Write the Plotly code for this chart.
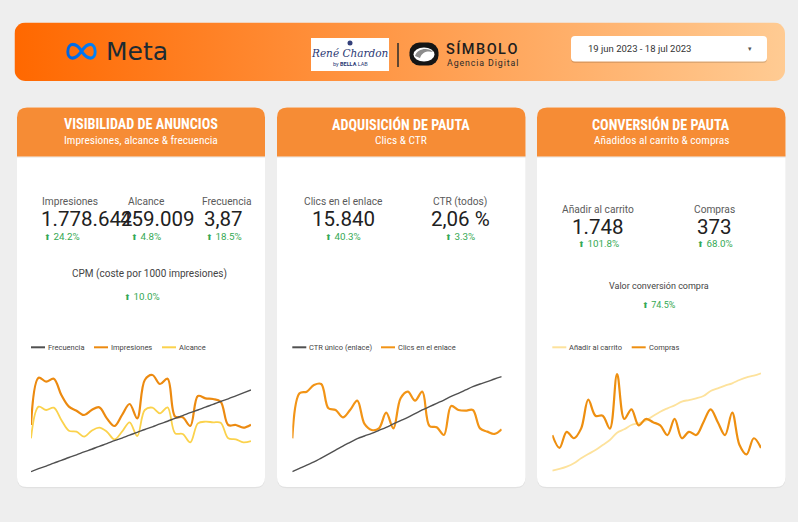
import base64
import pandas as pd
import plotly.graph_objects as go

W, H = 798, 522

# ---------------- DATA ----------------
fechas = pd.date_range("2023-06-19", "2023-07-18", freq="D")

impresiones = [43800, 75750, 73050, 75075, 64050, 56175, 53475, 50550, 53925, 55725,
               48300, 43125, 50550, 57975, 48300, 74175, 77550, 71475, 75075, 49425,
               48975, 43125, 63375, 61800, 61350, 59550, 43800, 43800, 42000, 44025]
alcance = [12020, 20000, 19160, 19748, 16640, 13952, 13700, 12440, 13952, 14708,
           13700, 11768, 13700, 16052, 12608, 19160, 19748, 18320, 19832, 13280,
           13112, 11012, 15800, 16220, 16052, 15968, 12020, 11768, 11012, 11348]
frecuencia = [1.10, 1.20, 1.29, 1.39, 1.48, 1.58, 1.67, 1.77, 1.86, 1.96,
              2.05, 2.15, 2.24, 2.34, 2.43, 2.53, 2.62, 2.72, 2.81, 2.91,
              3.00, 3.10, 3.19, 3.29, 3.38, 3.48, 3.57, 3.67, 3.77, 3.87]

clics = [300, 688, 702, 759, 768, 559, 544, 481, 544, 625,
         424, 372, 386, 521, 386, 645, 702, 625, 702, 406,
         395, 329, 579, 544, 538, 544, 386, 358, 338, 378]
ctr_unico = [1.000, 1.049, 1.098, 1.143, 1.201, 1.260, 1.319, 1.378, 1.432, 1.486,
             1.526, 1.565, 1.609, 1.653, 1.703, 1.752, 1.801, 1.855, 1.909, 1.958,
             2.007, 2.056, 2.110, 2.155, 2.204, 2.253, 2.292, 2.326, 2.366, 2.400]

compras = [11, 7, 12, 10, 13, 22, 17, 17, 13, 30,
           16, 19, 14, 16, 15, 14, 11, 16, 10, 12,
           11, 15, 19, 15, 11, 18, 8, 5, 10, 7]
carrito = [60, 89, 129, 187, 274, 349, 418, 505, 592, 719,
           777, 852, 881, 927, 1008, 1083, 1141, 1193, 1257, 1285,
           1314, 1355, 1442, 1488, 1534, 1575, 1632, 1679, 1707, 1748]

card_titles = ["VISIBILIDAD DE ANUNCIOS", "ADQUISICIÓN DE PAUTA", "CONVERSIÓN DE PAUTA"]
card_subtitles = ["Impresiones, alcance & frecuencia", "Clics & CTR", "Añadidos al carrito & compras"]

kpi1_labels = ["Impresiones", "Alcance", "Frecuencia"]
kpi1_values = ["1.778.642", "459.009", "3,87"]
kpi1_deltas = ["24.2%", "4.8%", "18.5%"]
kpi2_labels = ["Clics en el enlace", "CTR (todos)"]
kpi2_values = ["15.840", "2,06 %"]
kpi2_deltas = ["40.3%", "3.3%"]
kpi3_labels = ["Añadir al carrito", "Compras"]
kpi3_values = ["1.748", "373"]
kpi3_deltas = ["101.8%", "68.0%"]
extra_labels = ["CPM (coste por 1000 impresiones)", "Valor conversión compra"]
extra_deltas = ["10.0%", "74.5%"]

fecha_rango = "19 jun 2023 - 18 jul 2023"

# ---------------- STYLE ----------------
BG = "#eeeeee"
ORANGE_HDR = "#f68c35"
C_IMP = "#ec8a10"
C_ALC = "#fbd24c"
C_FREC = "#505050"
C_CLICS = "#f29416"
C_CTR = "#505050"
C_COMPRAS = "#ee8f10"
C_CARRITO = "#fde29c"
GREEN = "#34a853"
FONT = "Roboto"
COND = "Liberation Sans Narrow, Roboto Condensed, Roboto"


def X(px):
    return px / W


def Y(py):
    return 1 - py / H


def rrect(x0, y0, x1, y1, r, top_only=False):
    def P(x, y):
        return f"{X(x):.5f},{Y(y):.5f}"
    if top_only:
        s = (f"M {P(x0, y1)} L {P(x0, y0 + r)} Q {P(x0, y0)} {P(x0 + r, y0)} "
             f"L {P(x1 - r, y0)} Q {P(x1, y0)} {P(x1, y0 + r)} L {P(x1, y1)} Z")
    else:
        s = (f"M {P(x0 + r, y0)} L {P(x1 - r, y0)} Q {P(x1, y0)} {P(x1, y0 + r)} "
             f"L {P(x1, y1 - r)} Q {P(x1, y1)} {P(x1 - r, y1)} L {P(x0 + r, y1)} "
             f"Q {P(x0, y1)} {P(x0, y1 - r)} L {P(x0, y0 + r)} Q {P(x0, y0)} {P(x0 + r, y0)} Z")
    return s


shapes = []
annotations = []
images = []


def add_path(path, fill, line_color=None, width=0):
    shapes.append(dict(type="path", path=path, xref="paper", yref="paper",
                       fillcolor=fill, line=dict(color=line_color or fill, width=width),
                       layer="below"))


def text(x, y, s, size, color="#222", xanchor="center", family=FONT, weight="normal", style="normal"):
    annotations.append(dict(x=X(x), y=Y(y), xref="paper", yref="paper", text=s,
                            showarrow=False, xanchor=xanchor, yanchor="middle", borderpad=0,
                            font=dict(size=size, color=color, family=family, weight=weight, style=style)))


def svg_uri(svg):
    return "data:image/svg+xml;base64," + base64.b64encode(svg.encode()).decode()


def add_image(svg, x0, y0, x1, y1):
    images.append(dict(source=svg_uri(svg), xref="paper", yref="paper", x=X(x0), y=Y(y0),
                       sizex=(x1 - x0) / W, sizey=(y1 - y0) / H, xanchor="left", yanchor="top",
                       sizing="stretch", layer="below"))


# ---------------- HEADER ----------------
hx0, hy0, hx1, hy1 = 14.5, 22.5, 785, 81
hw, hh = hx1 - hx0, hy1 - hy0
add_image(f'<svg xmlns="http://www.w3.org/2000/svg" width="{hw}" height="{hh}" viewBox="0 0 {hw} {hh}">'
          '<defs><linearGradient id="g" x1="0" y1="0" x2="1" y2="0">'
          '<stop offset="0" stop-color="#ff6800"/><stop offset="1" stop-color="#ffcb93"/>'
          f'</linearGradient></defs><rect x="0" y="0" width="{hw}" height="{hh}" rx="11" ry="11" fill="url(#g)"/></svg>',
          hx0, hy0, hx1, hy1)

# Meta icon
add_image('<svg xmlns="http://www.w3.org/2000/svg" width="68" height="36" viewBox="0 0 68 36">'
          '<defs><linearGradient id="m" x1="0" y1="0" x2="1" y2="0">'
          '<stop offset="0" stop-color="#0064e1"/><stop offset="1" stop-color="#0082fb"/></linearGradient></defs>'
          '<path d="M34,18 C28,8 22,4 15,4 C8,4 4,11 4,19 C4,27 8,32 14,32 C22,32 28,26 34,18 '
          'C40,10 46,4 53,4 C60,4 64,11 64,19 C64,27 60,32 54,32 C46,32 40,26 34,18 Z" '
          'fill="none" stroke="url(#m)" stroke-width="6.5"/></svg>', 66, 42.5, 97, 60)
text(105, 51.8, "Meta", 25, "#1c2b33", "left", "DejaVu Sans")

# René Chardon logo block
shapes.append(dict(type="rect", xref="paper", yref="paper", x0=X(311), x1=X(389), y0=Y(71), y1=Y(38),
                   fillcolor="#ffffff", line=dict(width=0), layer="below"))
shapes.append(dict(type="circle", xref="paper", yref="paper", x0=X(347.5), x1=X(352.5), y0=Y(45.5), y1=Y(40.5),
                   fillcolor="#33407a", line=dict(width=0), layer="above"))
text(350, 53.5, "René Chardon", 10.5, "#2c3a74", "center", "DejaVu Serif", style="italic")
text(350, 63.5, "by <b>BELLA</b> LAB", 5.5, "#2c3a74", "center")
shapes.append(dict(type="line", xref="paper", yref="paper", x0=X(398), x1=X(398), y0=Y(67), y1=Y(43),
                   line=dict(color="#2a2a2a", width=1.5), layer="above"))

# Símbolo logo
add_image('<svg xmlns="http://www.w3.org/2000/svg" width="30" height="24" viewBox="0 0 30 24">'
          '<rect x="0.5" y="0.5" width="29" height="23" rx="10" fill="#151515"/>'
          '<ellipse cx="15" cy="12.5" rx="10.5" ry="7" fill="#ffffff"/>'
          '<path d="M6,14 C8,6 20,5 24,10 C19,8.5 13,9.5 11,16 Z" fill="#8c8c8c"/></svg>', 409, 42, 439, 66)
text(445, 49, "S\u200aÍ\u200aM\u200aB\u200aO\u200aL\u200aO", 14.5, "#1e1e1e", "left", FONT, weight=500)
text(446, 62.5, "A\u200ag\u200ae\u200an\u200ac\u200ai\u200aa\u2009 D\u200ai\u200ag\u200ai\u200at\u200aa\u200al", 8.8, "#2a2a2a", "left", FONT)

# Date selector
add_path(rrect(571, 37.5, 767, 63, 4), "rgba(0,0,0,0.13)")
add_path(rrect(571, 36, 767, 61.5, 4), "#ffffff")
text(587, 48.8, fecha_rango, 9.5, "#333333", "left")
text(749.5, 48.5, "▾", 7, "#555555", "center", "DejaVu Sans")

# ---------------- CARDS ----------------
cards = [(17, 265), (277, 525.5), (537, 785.5)]
cy0, cy1, chdr = 107.5, 487, 156.5
for i, (x0, x1) in enumerate(cards):
    add_path(rrect(x0, cy0 + 1, x1, cy1 + 1.2, 10), "rgba(0,0,0,0.05)")
    add_path(rrect(x0, cy0, x1, cy1, 10), "#ffffff")
    add_path(rrect(x0, chdr - 2, x1, chdr + 1.5, 0), "rgba(0,0,0,0.06)")
    add_path(rrect(x0, cy0, x1, chdr, 10, top_only=True), ORANGE_HDR)
    cx = (x0 + x1) / 2
    text(cx, 124, f"<b>{card_titles[i]}</b>", 14.2, "#ffffff", "center", COND)
    text(cx, 140.5, card_subtitles[i], 11.4, "#ffffff", "center", COND)


def delta(s):
    return f"<span style='font-size:7.5px'>⬆</span> {s}"


LBL = "#5a5a5a"
VAL = "#212121"
# Card 1 KPIs (left aligned)
k1_lx = [40.5, 127, 201]
k1_vx = [39.5, 118.5, 202.5]
k1_dx = [42.5, 130, 205]
for j in range(3):
    text(k1_lx[j], 201.5, kpi1_labels[j], 10.2, LBL, "left")
    text(k1_vx[j], 219, kpi1_values[j], 20.5, VAL, "left")
    text(k1_dx[j], 236.5, delta(kpi1_deltas[j]), 9.8, GREEN, "left")
text(149, 273.5, extra_labels[0], 10, "#444444", "center")
text(142, 296, delta(extra_deltas[0]), 9.8, GREEN, "center")

# Card 2 KPIs
for j, cx in enumerate([343, 460.5]):
    text(cx, 201.5, kpi2_labels[j], 10.2, LBL, "center")
    text(cx, 219, kpi2_values[j], 20.5, VAL, "center")
    text(cx, 236.8, delta(kpi2_deltas[j]), 9.8, GREEN, "center")

# Card 3 KPIs
for j, cx in enumerate([598, 714.5]):
    text(cx, 209, kpi3_labels[j], 10.2, LBL, "center")
    text(cx, 227, kpi3_values[j], 20.5, VAL, "center")
    text(cx, 244, delta(kpi3_deltas[j]), 9.8, GREEN, "center")
text(659, 286, extra_labels[1], 9, "#444444", "center")
text(659, 304.5, delta(extra_deltas[1]), 9, GREEN, "center")

# ---------------- LEGENDS ----------------
LEG_Y = 347.3
legends = [
    [(31, "Frecuencia", C_FREC), (94, "Impresiones", C_IMP), (162, "Alcance", C_ALC)],
    [(292.3, "CTR único (enlace)", C_CTR), (381, "Clics en el enlace", C_CLICS)],
    [(552.3, "Añadir al carrito", C_CARRITO), (631.7, "Compras", C_COMPRAS)],
]
for items in legends:
    for lx, name, col in items:
        shapes.append(dict(type="line", xref="paper", yref="paper", x0=X(lx), x1=X(lx + 14),
                           y0=Y(LEG_Y), y1=Y(LEG_Y), line=dict(color=col, width=2), layer="above"))
        text(lx + 16, LEG_Y, name, 7.5, "#444444", "left")

# ---------------- TRACES ----------------
def line(xs, ys, xa, ya, col, w):
    return go.Scatter(x=xs, y=ys, xaxis=xa, yaxis=ya, mode="lines", cliponaxis=False,
                      line=dict(color=col, width=w, shape="spline", smoothing=1),
                      showlegend=False, hoverinfo="skip")


fig = go.Figure()
fig.add_trace(line(fechas, impresiones, "x", "y", C_IMP, 2.2))
fig.add_trace(line(fechas, alcance, "x", "y2", C_ALC, 1.8))
fig.add_trace(line(fechas, frecuencia, "x", "y3", C_FREC, 1.4))
fig.add_trace(line(fechas, clics, "x2", "y4", C_CLICS, 2.2))
fig.add_trace(line(fechas, ctr_unico, "x2", "y5", C_CTR, 1.4))
fig.add_trace(line(fechas, carrito, "x3", "y6", C_CARRITO, 1.8))
fig.add_trace(line(fechas, compras, "x3", "y7", C_COMPRAS, 2.2))

ydom = [Y(480), Y(360)]
hid = dict(visible=False, showgrid=False, zeroline=False, fixedrange=True)
xr = [fechas[0], fechas[-1]]

fig.update_layout(
    width=W, height=H, margin=dict(l=0, r=0, t=0, b=0),
    paper_bgcolor=BG, plot_bgcolor="rgba(0,0,0,0)",
    showlegend=False,
    xaxis=dict(domain=[X(31), X(251)], range=xr, anchor="y", **hid),
    yaxis=dict(domain=ydom, range=[6675, 87675], anchor="x", **hid),
    yaxis2=dict(overlaying="y", range=[1520, 31760], anchor="x", **hid),
    yaxis3=dict(overlaying="y", range=[0.817, 4.887], anchor="x", **hid),
    xaxis2=dict(domain=[X(292.3), X(501.7)], range=xr, anchor="y4", **hid),
    yaxis4=dict(domain=ydom, range=[-58.5, 974.7], anchor="x2", **hid),
    yaxis5=dict(overlaying="y4", range=[0.8772, 2.6456], anchor="x2", **hid),
    xaxis3=dict(domain=[X(552.3), X(761)], range=xr, anchor="y6", **hid),
    yaxis6=dict(domain=ydom, range=[-102, 1979], anchor="x3", **hid),
    yaxis7=dict(overlaying="y6", range=[-2.99, 34.35], anchor="x3", **hid),
    shapes=shapes, annotations=annotations, images=images,
)

fig.write_html("out.html", config={"displayModeBar": False})
